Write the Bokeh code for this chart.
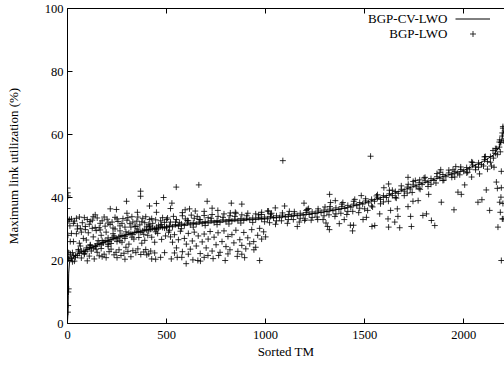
from bokeh.plotting import figure
from bokeh.models import (Range1d, LinearAxis, Legend, LegendItem, Label,
                          FixedTicker, CustomJSTickFormatter)
from bokeh.embed import file_html
from bokeh.resources import INLINE

# ---------------- data ----------------
x_ticks = [0, 500, 1000, 1500, 2000]
y_ticks = [0, 20, 40, 60, 80, 100]

# BGP-CV-LWO (sorted curve)
cv_x = [0, 2, 4, 6, 10, 20, 50, 100, 150, 200, 250, 300, 350, 400, 450, 500,
        600, 700, 800, 900, 1000, 1100, 1200, 1300, 1400, 1500, 1600, 1700,
        1800, 1900, 2000, 2050, 2100, 2150, 2180, 2195, 2205]
cv_y = [0.5, 3, 9, 16, 19.5, 20.5, 22, 23.5, 24.9, 26.2, 27.3, 28.2, 29, 29.7,
        30.2, 30.7, 31.5, 32.1, 32.6, 33, 33.4, 34, 34.6, 35.5, 36.7, 38.3,
        40.3, 42.5, 44.7, 46.8, 48.6, 50, 51.5, 53.5, 56, 59, 62]

# BGP-LWO (scattered points), grouped by region
lwo_start = [(0, 43), (1, 41.5), (2, 40.5), (0, 36.5), (1, 33), (3, 32.5), (2, 28),
             (0, 23), (4, 22.5), (5, 20.5), (6, 11), (4, 10), (3, 5.7), (2, 3.6),
             (8, 21), (10, 33), (12, 31), (15, 22), (14, 26)]

lwo_upper_0_500 = [(20, 33.2), (35, 32.5), (50, 31.0), (60, 33.8), (75, 32.0), (90, 30.8),
                   (100, 33.0), (110, 31.5), (125, 32.8), (140, 30.5), (150, 33.5), (165, 31.8),
                   (175, 32.6), (190, 30.9), (200, 33.1), (215, 31.4), (225, 32.2), (240, 33.7),
                   (255, 32.4), (265, 31.0), (280, 33.3), (290, 30.6), (300, 32.8), (315, 31.7),
                   (325, 33.9), (340, 30.9), (350, 32.5), (365, 31.3), (380, 33.4), (390, 32.0),
                   (400, 30.7), (415, 33.0), (430, 31.8), (445, 32.9), (460, 31.2), (480, 33.6),
                   (490, 32.1), (30, 31.8), (45, 33.4), (65, 30.2), (85, 33.6), (115, 32.4),
                   (130, 33.9), (160, 30.4), (185, 33.8), (205, 31.9), (230, 30.3), (250, 33.2),
                   (275, 31.8), (305, 33.6), (330, 32.2), (355, 33.8), (375, 32.3), (395, 33.9),
                   (410, 31.5), (425, 33.3), (450, 30.6), (470, 32.6), (500, 33.0)]

lwo_lower_0_500 = [(25, 22.5), (40, 21.0), (55, 23.5), (70, 20.8), (85, 22.2), (95, 24.0),
                   (110, 21.4), (120, 23.0), (135, 20.5), (150, 22.6), (160, 21.5), (170, 23.8),
                   (185, 22.0), (195, 20.9), (210, 22.8), (220, 23.6), (235, 21.8), (245, 22.6),
                   (260, 23.4), (270, 21.6), (285, 22.3), (295, 24.2), (305, 22.9), (320, 21.2),
                   (330, 23.1), (345, 22.5), (355, 23.7), (370, 21.9), (385, 22.7), (395, 23.5),
                   (410, 22.1), (420, 23.0), (440, 22.4), (400, 21.8), (425, 20.5), (445, 20.4),
                   (470, 21.0), (490, 22.5), (35, 19.8), (65, 24.6), (100, 19.9), (140, 24.4),
                   (175, 21.2), (205, 24.5), (250, 20.9), (290, 20.4)]

lwo_mid_0_500 = [(30, 26), (45, 28.5), (60, 25.5), (70, 29), (80, 27), (95, 26.5), (105, 28.8),
                 (115, 25.0), (130, 27.5), (145, 29.5), (155, 26.3), (170, 28.0), (180, 25.6),
                 (195, 29.0), (205, 27.2), (220, 25.4), (230, 28.5), (250, 26.0), (265, 29.4),
                 (275, 25.8), (290, 27.0), (310, 25.2), (335, 26.8), (360, 27.3), (375, 25.5),
                 (390, 26.4), (405, 28.0), (425, 27.4), (440, 25.8), (455, 28.6), (475, 26.7),
                 (495, 27.8), (20, 28.6), (50, 30.0), (90, 29.8), (125, 30.2), (165, 29.7),
                 (240, 30.0), (320, 30.6), (345, 30.8), (415, 31.0)]

lwo_high_0_1000 = [(216, 36.4), (247, 36.2), (298, 38.8), (369, 42.0), (369, 40.4), (414, 37.3),
                   (449, 38.1), (485, 40.0), (353, 35.3), (449, 35.3), (549, 43.3), (663, 44.0),
                   (527, 38.2), (705, 38.8), (827, 38.2), (880, 37.9), (594, 36.1), (616, 36.4),
                   (645, 35.7), (759, 35.9), (822, 35.1), (847, 35.3), (978, 34.6), (1010, 35.7),
                   (140, 34.5), (300, 35.0), (520, 36.5), (580, 35.2), (690, 35.6), (730, 36.6)]

lwo_curve_0_500 = [(20, 20.6), (40, 21.6), (60, 22.3), (80, 22.9), (100, 23.5), (120, 24.1),
                   (140, 24.6), (160, 25.2), (180, 25.7), (200, 26.2), (220, 26.6), (240, 27.1),
                   (260, 27.5), (280, 27.9), (300, 28.2), (320, 28.5), (340, 28.9), (360, 29.1),
                   (380, 29.4), (400, 29.7), (420, 29.9), (440, 30.1), (460, 30.3), (480, 30.5),
                   (500, 30.7), (30, 21.5), (50, 21.6), (70, 23.0), (90, 22.8), (110, 24.2),
                   (130, 23.9), (150, 25.3), (170, 25.0), (190, 26.3), (210, 26.0), (230, 27.2),
                   (250, 26.9), (270, 28.0), (290, 27.7), (310, 28.8), (330, 28.3), (350, 29.3),
                   (370, 28.9), (390, 29.9), (410, 29.4), (430, 30.3), (450, 29.8), (470, 30.7),
                   (490, 30.3), (25, 19.6), (55, 23.0), (85, 22.0), (115, 24.8), (145, 23.6),
                   (175, 26.3), (205, 25.1), (235, 27.8), (265, 26.3), (295, 29.1), (325, 27.4),
                   (355, 30.0), (385, 28.3), (415, 30.7), (445, 29.1), (475, 31.4)]

lwo_below_500_1000 = [(510, 29.0), (520, 27.5), (530, 25.8), (540, 28.2), (550, 24.0), (560, 26.6),
                      (570, 29.3), (580, 22.8), (590, 27.0), (600, 25.2), (610, 28.6), (620, 23.6),
                      (630, 26.2), (640, 29.0), (650, 24.6), (660, 27.8), (670, 22.2), (680, 25.9),
                      (690, 28.4), (700, 24.0), (710, 26.8), (720, 29.2), (730, 23.0), (740, 27.4),
                      (750, 25.0), (760, 28.8), (770, 22.6), (780, 26.0), (790, 29.4), (800, 24.4),
                      (810, 27.6), (820, 23.4), (830, 28.2), (840, 25.6), (850, 29.6), (860, 22.9),
                      (870, 26.6), (880, 24.8), (890, 28.9), (900, 23.7), (910, 27.2), (920, 25.3),
                      (930, 29.8), (940, 26.0), (950, 24.2), (960, 28.0), (970, 30.2), (980, 26.8),
                      (990, 29.1), (1000, 27.5), (524, 20.5), (554, 21.0), (577, 21.0), (599, 19.0),
                      (633, 20.2), (658, 20.0), (671, 19.8), (709, 21.6), (763, 21.6), (796, 20.0),
                      (810, 22.1), (857, 21.3), (894, 20.9), (941, 23.4), (970, 20.0), (540, 22.4),
                      (610, 22.0), (690, 21.0), (735, 20.6), (880, 22.0)]

lwo_above_500_1000 = [(505, 33.5), (520, 32.2), (535, 34.0), (550, 33.0), (565, 32.0), (580, 34.2),
                      (595, 33.2), (610, 32.6), (625, 34.4), (640, 33.4), (655, 34.0), (670, 33.0),
                      (690, 34.3), (710, 33.6), (730, 34.6), (760, 34.0), (790, 34.8), (820, 34.2),
                      (850, 35.0), (880, 34.5), (910, 35.0), (950, 34.8), (980, 35.3)]

lwo_curve_500_1000 = [(500, 30.4), (515, 31.2), (530, 30.7), (545, 31.4), (560, 30.9), (575, 31.6),
                      (590, 31.1), (605, 31.9), (620, 31.3), (635, 32.0), (650, 31.5), (665, 32.2),
                      (680, 31.7), (695, 32.4), (710, 31.9), (725, 32.6), (740, 32.0), (755, 32.7),
                      (770, 32.1), (785, 32.9), (800, 32.3), (815, 33.0), (830, 32.5), (845, 33.1),
                      (860, 32.6), (875, 33.3), (890, 32.7), (905, 33.4), (920, 32.9), (935, 33.5),
                      (950, 33.0), (965, 33.7), (980, 33.1), (995, 33.8), (515, 29.6), (545, 32.2),
                      (575, 30.1), (605, 32.7), (635, 30.6), (665, 33.0), (695, 31.1), (725, 33.4),
                      (755, 31.4), (785, 33.7), (815, 31.6), (845, 34.0), (875, 31.9), (905, 34.2),
                      (935, 32.1), (965, 34.5), (995, 32.3)]

lwo_curve_1000_1500 = [(1010, 33.2), (1025, 34.0), (1040, 33.5), (1055, 34.2), (1070, 33.6),
                       (1085, 34.4), (1100, 33.8), (1115, 34.6), (1130, 34.0), (1145, 34.8),
                       (1160, 34.2), (1175, 35.0), (1190, 34.4), (1205, 35.2), (1220, 34.6),
                       (1235, 35.4), (1250, 34.9), (1265, 35.7), (1280, 35.2), (1295, 36.0),
                       (1310, 35.5), (1325, 36.3), (1340, 35.8), (1355, 36.7), (1370, 36.2),
                       (1385, 37.1), (1400, 36.5), (1415, 37.5), (1430, 36.9), (1445, 37.9),
                       (1460, 37.4), (1475, 38.4), (1490, 37.9), (1025, 34.7), (1055, 32.6),
                       (1085, 35.1), (1115, 33.0), (1145, 35.5), (1175, 33.4), (1205, 35.9),
                       (1235, 33.7), (1265, 36.4), (1295, 34.2), (1325, 37.1), (1355, 34.8),
                       (1385, 37.9), (1415, 35.6), (1445, 38.8), (1475, 36.6)]

lwo_scatter_1000_1500 = [(1087, 51.7), (1015, 35.7), (1049, 36.7), (1096, 37.3), (1194, 38.2),
                         (1217, 36.5), (1323, 41.0), (1328, 38.4), (1352, 39.0), (1390, 38.4),
                         (1483, 40.6), (1160, 30.8), (1197, 32.7), (1263, 33.0), (1305, 31.9),
                         (1313, 30.8), (1322, 29.8), (1372, 31.7), (1428, 31.2), (1439, 29.4),
                         (1397, 33.0), (1444, 31.2), (1492, 33.0), (1020, 32.0), (1050, 31.5),
                         (1080, 32.6), (1110, 31.8), (1140, 33.0), (1170, 32.2), (1200, 33.2),
                         (1230, 32.8), (1260, 33.8), (1290, 33.0), (1320, 34.5), (1350, 34.0),
                         (1380, 35.0), (1410, 34.6), (1440, 35.6), (1470, 35.2), (1500, 36.4),
                         (1030, 35.0), (1120, 35.6), (1210, 36.2), (1300, 37.0), (1450, 39.4)]

lwo_curve_1500_2200 = [(1505, 38.9), (1520, 38.3), (1535, 39.4), (1550, 38.8), (1565, 39.9),
                       (1580, 39.4), (1595, 40.6), (1610, 40.0), (1625, 41.2), (1640, 40.6),
                       (1655, 41.9), (1670, 41.3), (1685, 42.6), (1700, 42.0), (1715, 43.3),
                       (1730, 42.7), (1745, 44.0), (1760, 43.4), (1775, 44.7), (1790, 44.1),
                       (1805, 45.3), (1820, 44.8), (1835, 46.0), (1850, 45.4), (1865, 46.6),
                       (1880, 46.1), (1895, 47.3), (1910, 46.6), (1925, 47.8), (1940, 47.2),
                       (1955, 48.3), (1970, 47.7), (1985, 48.9), (2000, 48.3), (2015, 49.5),
                       (2030, 49.0), (2045, 50.3), (2060, 49.7), (2075, 51.0), (2090, 50.5),
                       (2105, 52.0), (2120, 51.4), (2135, 53.0), (2150, 52.5), (2160, 54.0),
                       (2170, 53.6), (2180, 56.0), (2188, 57.5), (2194, 59.5), (2198, 62.0),
                       (1505, 39.6), (1535, 37.3), (1565, 40.9), (1595, 38.6), (1625, 42.3),
                       (1655, 40.0), (1685, 43.7), (1715, 41.4), (1745, 45.1), (1775, 42.9),
                       (1805, 46.4), (1835, 44.2), (1865, 47.6), (1895, 45.4), (1925, 48.7),
                       (1955, 46.5), (1985, 49.7), (2015, 47.8), (2045, 51.1), (2075, 49.6),
                       (2105, 52.9), (2135, 51.2), (2165, 55.5), (2185, 54.5), (2195, 60.5),
                       (2200, 58.0)]

lwo_scatter_1500_2200 = [(1530, 53.1), (1621, 44.3), (1597, 43.1), (1719, 46.4), (1756, 45.4),
                         (1778, 45.6), (1884, 48.8), (1946, 48.8), (2148, 54.9), (2182, 58.3),
                         (1515, 35.9), (1509, 33.7), (1576, 34.8), (1618, 33.2), (1631, 35.9),
                         (1665, 36.4), (1668, 34.0), (1551, 31.1), (1537, 30.8), (1621, 30.6),
                         (1677, 30.4), (1652, 32.2), (1719, 37.1), (1744, 38.8), (1770, 39.0),
                         (1732, 34.0), (1736, 30.8), (1794, 34.3), (1812, 34.8), (1823, 41.0),
                         (1837, 32.7), (1854, 31.1), (1887, 38.5), (1951, 36.1), (1971, 41.7),
                         (1988, 41.0), (2072, 38.5), (2092, 39.3), (2114, 42.4), (2131, 35.9),
                         (2182, 38.5), (2190, 43.1), (2173, 30.6), (2199, 33.2), (2165, 44.9),
                         (2190, 48.3), (2153, 49.6), (2005, 44.0), (2040, 46.5), (2080, 47.5),
                         (2120, 49.0), (2140, 50.0), (1540, 37.0), (1580, 38.0), (1620, 38.8),
                         (1660, 39.8), (1700, 40.6), (1740, 41.6), (1780, 42.6), (1820, 43.5),
                         (1860, 44.6), (1900, 45.5), (1940, 46.4), (1980, 47.2), (2020, 48.0),
                         (2060, 48.8), (2100, 50.0), (1560, 40.5), (1640, 42.3), (1720, 44.2),
                         (1800, 46.2), (1880, 48.0), (1960, 49.8), (2040, 51.3), (2110, 53.0),
                         (2160, 55.5), (2190, 20.0), (2195, 33.2), (2185, 35.3), (2198, 38.1),
                         (2188, 40.1), (2170, 42.9), (2180, 57.6), (2198, 62.5)]

lwo_groups = [lwo_start, lwo_upper_0_500, lwo_lower_0_500, lwo_mid_0_500, lwo_high_0_1000,
              lwo_curve_0_500, lwo_below_500_1000, lwo_above_500_1000, lwo_curve_500_1000,
              lwo_curve_1000_1500, lwo_scatter_1000_1500, lwo_curve_1500_2200,
              lwo_scatter_1500_2200]
lwo_x = [pt[0] for g in lwo_groups for pt in g]
lwo_y = [pt[1] for g in lwo_groups for pt in g]

series_names = ["BGP-CV-LWO", "BGP-LWO"]

# ---------------- figure ----------------
FONT = "Liberation Serif"

p = figure(width=504, height=366, output_backend="svg", toolbar_location=None,
           x_range=Range1d(0, 2206), y_range=Range1d(0, 100),
           min_border_left=67, min_border_right=0, min_border_top=8, min_border_bottom=43,
           margin=(0, 0, 0, 0),
           x_axis_label="Sorted TM", y_axis_label="Maximum link utilization (%)")
p.grid.visible = False
p.outline_line_color = None
p.background_fill_color = "white"
p.border_fill_color = "white"

line_r = p.line(cv_x, cv_y, line_color="black", line_width=1)
pts_r = p.scatter(lwo_x, lwo_y, marker="cross", size=6, line_color="black",
                  line_width=1, line_alpha=0.8)

for ax in [p.xaxis[0], p.yaxis[0]]:
    ax.major_tick_in = 5
    ax.major_tick_out = 0
    ax.minor_tick_in = 0
    ax.minor_tick_out = 0
    ax.axis_line_color = "black"
    ax.major_tick_line_color = "black"
    ax.major_label_text_font = FONT
    ax.major_label_text_font_size = "12.5px"
    ax.major_label_text_color = "black"
    ax.axis_label_text_font = FONT
    ax.axis_label_text_font_size = "13px"
    ax.axis_label_text_font_style = "normal"
    ax.axis_label_text_color = "black"

p.xaxis.ticker = FixedTicker(ticks=x_ticks)
p.yaxis.ticker = FixedTicker(ticks=y_ticks)
p.xaxis.major_label_standoff = 7
p.xaxis.axis_label_standoff = 2
p.yaxis.major_label_standoff = 4
p.yaxis.axis_label_standoff = 21

top_axis = LinearAxis(ticker=FixedTicker(ticks=x_ticks),
                      formatter=CustomJSTickFormatter(code="return ''"),
                      major_tick_in=5, major_tick_out=0, minor_tick_in=0, minor_tick_out=0,
                      major_label_standoff=0, major_label_text_font_size="0px",
                      axis_line_color="black", major_tick_line_color="black")
p.add_layout(top_axis, "above")

legend = Legend(items=[LegendItem(label="", renderers=[line_r]),
                       LegendItem(label="", renderers=[pts_r])],
                location=(388, 282), orientation="vertical",
                glyph_width=35, glyph_height=15, label_width=0, label_height=15,
                label_standoff=0, padding=0, spacing=0, margin=0,
                border_line_color=None, background_fill_alpha=0,
                label_text_font_size="0px")
p.add_layout(legend)

for i, name in enumerate(series_names):
    p.add_layout(Label(x=380, y=304.7 - 15 * i, x_units="screen", y_units="screen",
                       text=name, text_align="right", text_baseline="middle",
                       text_font=FONT, text_font_size="13px", text_color="black"))

open("out.html", "w").write(file_html(p, INLINE))
